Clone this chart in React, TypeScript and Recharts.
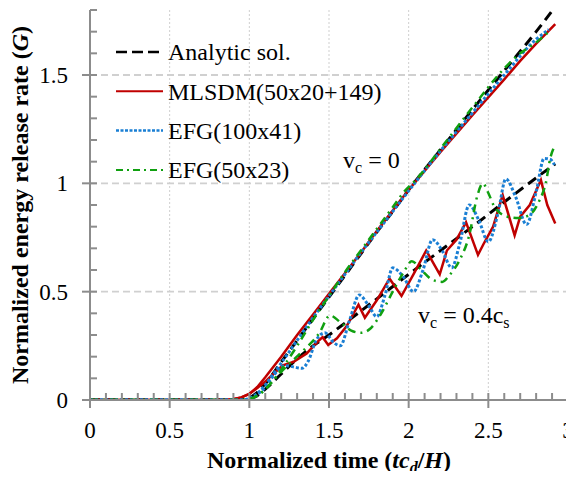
import { Legend, Line, LineChart, ReferenceDot, ReferenceLine, XAxis, YAxis } from 'recharts'

const FONT = '"Liberation Serif", "Times New Roman", serif'
const AXIS = '#8c8c8c'
const BLACK = '#000000'
const RED = '#c00000'
const BLUE = '#1a7fd4'
const GREEN = '#10a010'

// tick positions (minor every 0.1, labelled every 0.5)
const X_TICKS = [0, 0.1, 0.2, 0.3, 0.4, 0.5, 0.6, 0.7, 0.8, 0.9, 1, 1.1, 1.2, 1.3, 1.4, 1.5, 1.6, 1.7, 1.8, 1.9, 2, 2.1, 2.2, 2.3, 2.4, 2.5, 2.6, 2.7, 2.8, 2.9, 3]
const X_LABELS = [0, 0.5, 1, 1.5, 2, 2.5, 3]
const Y_TICKS = [0, 0.1, 0.2, 0.3, 0.4, 0.5, 0.6, 0.7, 0.8, 0.9, 1, 1.1, 1.2, 1.3, 1.4, 1.5, 1.6, 1.7, 1.8]
const Y_LABELS = [0, 0.5, 1, 1.5]
const X_GRID = [0.5, 1, 1.5, 2, 2.5, 3]
const Y_GRID = [0.5, 1, 1.5]

// v_c = 0  [t, G]
const ANALYTIC_V0 = [[0, 0], [0.9, 0], [0.95, 0.003], [1.0, 0.01], [1.05, 0.035], [1.1, 0.075], [1.2, 0.175], [1.3, 0.275], [1.4, 0.375], [1.5, 0.475], [1.6, 0.575], [1.7, 0.675], [1.8, 0.775], [1.9, 0.87], [2.0, 0.97], [2.2, 1.155], [2.4, 1.34], [2.6, 1.52], [2.8, 1.7], [2.92, 1.815]]
const MLSDM_V0 = [[0, 0], [0.85, 0], [0.9, 0.005], [0.95, 0.012], [1.0, 0.028], [1.05, 0.06], [1.1, 0.105], [1.2, 0.2], [1.3, 0.3], [1.4, 0.395], [1.5, 0.49], [1.6, 0.585], [1.7, 0.68], [1.8, 0.78], [1.9, 0.875], [2.0, 0.97], [2.2, 1.145], [2.4, 1.315], [2.6, 1.48], [2.7, 1.565], [2.8, 1.645], [2.92, 1.735]]
const EFG100_V0 = [[0, 0], [0.95, 0], [1.0, 0.008], [1.05, 0.03], [1.1, 0.07], [1.15, 0.12], [1.2, 0.17], [1.3, 0.275], [1.4, 0.38], [1.5, 0.48], [1.6, 0.58], [1.7, 0.68], [1.8, 0.775], [1.9, 0.87], [2.0, 0.965], [2.2, 1.15], [2.4, 1.325], [2.6, 1.5], [2.8, 1.665], [2.88, 1.71]]
const EFG50_V0 = [[0, 0], [0.95, 0], [1.0, 0.005], [1.05, 0.02], [1.1, 0.05], [1.15, 0.09], [1.2, 0.14], [1.3, 0.25], [1.4, 0.37], [1.5, 0.48], [1.6, 0.59], [1.7, 0.69], [1.8, 0.79], [1.9, 0.89], [1.97, 0.96], [2.05, 1.02], [2.2, 1.16], [2.4, 1.35], [2.6, 1.53], [2.7, 1.6], [2.74, 1.62], [2.8, 1.65], [2.88, 1.7]]

// v_c = 0.4 c_s
const ANALYTIC_V04 = [[0, 0], [0.95, 0], [1.0, 0.005], [1.05, 0.02], [1.1, 0.05], [1.2, 0.12], [1.3, 0.19], [1.4, 0.25], [1.5, 0.3], [1.6, 0.355], [1.8, 0.467], [2.0, 0.58], [2.2, 0.69], [2.4, 0.8], [2.6, 0.914], [2.8, 1.025], [2.92, 1.09]]
const MLSDM_V04 = [[0, 0], [0.85, 0], [0.9, 0.004], [0.95, 0.012], [1.0, 0.028], [1.05, 0.055], [1.1, 0.085], [1.15, 0.12], [1.21, 0.16], [1.28, 0.177], [1.36, 0.215], [1.44, 0.277], [1.46, 0.29], [1.495, 0.254], [1.55, 0.285], [1.61, 0.34], [1.685, 0.44], [1.725, 0.38], [1.8, 0.46], [1.88, 0.56], [1.955, 0.48], [2.03, 0.58], [2.11, 0.69], [2.195, 0.58], [2.24, 0.69], [2.3, 0.74], [2.36, 0.82], [2.435, 0.67], [2.47, 0.72], [2.53, 0.8], [2.59, 0.946], [2.665, 0.76], [2.7, 0.846], [2.76, 0.9], [2.83, 1.015], [2.87, 0.9], [2.92, 0.815]]
const EFG100_V04 = [[0, 0], [0.95, 0], [1.0, 0.005], [1.05, 0.025], [1.1, 0.06], [1.15, 0.11], [1.19, 0.145], [1.23, 0.158], [1.27, 0.154], [1.33, 0.146], [1.37, 0.18], [1.42, 0.277], [1.474, 0.31], [1.53, 0.265], [1.57, 0.25], [1.63, 0.37], [1.69, 0.485], [1.745, 0.44], [1.8, 0.385], [1.85, 0.48], [1.9, 0.61], [1.965, 0.57], [2.03, 0.5], [2.09, 0.6], [2.15, 0.74], [2.21, 0.69], [2.27, 0.61], [2.32, 0.72], [2.38, 0.9], [2.44, 0.83], [2.5, 0.73], [2.56, 0.86], [2.61, 1.02], [2.67, 0.94], [2.74, 0.81], [2.8, 0.96], [2.85, 1.115], [2.89, 1.11], [2.915, 1.085]]
const EFG50_V04 = [[0, 0], [0.95, 0], [1.0, 0.005], [1.05, 0.02], [1.1, 0.05], [1.15, 0.09], [1.21, 0.138], [1.32, 0.215], [1.44, 0.31], [1.506, 0.39], [1.57, 0.36], [1.64, 0.32], [1.7, 0.31], [1.76, 0.33], [1.82, 0.39], [1.9, 0.5], [1.965, 0.585], [2.02, 0.64], [2.08, 0.6], [2.15, 0.554], [2.21, 0.545], [2.257, 0.577], [2.32, 0.646], [2.38, 0.76], [2.43, 0.94], [2.466, 1.0], [2.497, 0.96], [2.54, 0.89], [2.62, 0.846], [2.69, 0.84], [2.76, 0.855], [2.82, 0.92], [2.86, 1.0], [2.89, 1.12], [2.915, 1.17]]

const pts = (a: number[][]) => a.map(([x, y]) => ({ x, y }))

const SERIES = [
  { name: 'Analytic sol.', color: BLACK, width: 3, dash: '10 6', curve: 'monotone', sets: [ANALYTIC_V0, ANALYTIC_V04] },
  { name: 'MLSDM(50x20+149)', color: RED, width: 2.5, dash: undefined, curve: 'linear', sets: [MLSDM_V0, MLSDM_V04] },
  { name: 'EFG(100x41)', color: BLUE, width: 3, dash: '3 2', curve: 'monotone', sets: [EFG100_V0, EFG100_V04] },
  { name: 'EFG(50x23)', color: GREEN, width: 2.5, dash: '8 5 2 5', curve: 'monotone', sets: [EFG50_V0, EFG50_V04] },
]

const LEGEND_DASH = ['11 5', undefined, '3 1.5', '7 4 2 4']

function XTick(props: any) {
  const { x, y, payload } = props
  const major = X_LABELS.includes(payload.value)
  return (
    <g>
      <line x1={x} x2={x} y1={y - 7} y2={major ? y + 8 : y} stroke={AXIS} strokeWidth={2} />
      {major && (
        <text x={x} y={y + 38} textAnchor="middle" fontFamily={FONT} fontSize={23} fill="#000">
          {payload.value}
        </text>
      )}
    </g>
  )
}

function YTick(props: any) {
  const { x, y, payload } = props
  const major = Y_LABELS.includes(payload.value)
  return (
    <g>
      <line x1={major ? x - 8 : x} x2={x + 7} y1={y} y2={y} stroke={AXIS} strokeWidth={2} />
      {major && (
        <text x={x - 22} y={y} dy="0.35em" textAnchor="end" fontFamily={FONT} fontSize={23} fill="#000">
          {payload.value}
        </text>
      )}
    </g>
  )
}

function XTitle(props: any) {
  const { x, y, width } = props.viewBox
  return (
    <text x={x + width / 2} y={y + 68} textAnchor="middle" fontFamily={FONT} fontSize={24} fontWeight="bold" fill="#000">
      Normalized time (<tspan fontStyle="italic">tc</tspan>
      <tspan fontStyle="italic" fontSize={16} dy={5}>d</tspan>
      <tspan dy={-5}>/</tspan>
      <tspan fontStyle="italic">H</tspan>)
    </text>
  )
}

function YTitle(props: any) {
  const { x, y, height } = props.viewBox
  return (
    <text
      transform={`translate(${x + 20},${y + height / 2}) rotate(-90)`}
      textAnchor="middle"
      dominantBaseline="central"
      fontFamily={FONT}
      fontSize={24}
      fontWeight="bold"
      fill="#000"
    >
      Normalized energy release rate (<tspan fontStyle="italic">G</tspan>)
    </text>
  )
}

function Annot(props: any) {
  const { x, y } = props.viewBox
  return (
    <text x={x} y={y} fontFamily={FONT} fontSize={24} fill="#000">
      v<tspan fontSize={16} dy={5}>c</tspan>
      <tspan dy={-5}>{` = ${props.value}`}</tspan>
      {props.sub && <tspan fontSize={16} dy={5}>{props.sub}</tspan>}
    </text>
  )
}

function LegendBox() {
  return (
    <svg width={300} height={165}>
      {SERIES.map((s, i) => {
        const cy = 22 + i * 39.3
        return (
          <g key={s.name}>
            <line x1={6} x2={53} y1={cy} y2={cy} stroke={s.color} strokeWidth={s.width - 0.5} strokeDasharray={LEGEND_DASH[i]} />
            <text x={58} y={cy} dy="0.35em" fontFamily={FONT} fontSize={24} fill="#000">
              {s.name}
            </text>
          </g>
        )
      })}
    </svg>
  )
}

export default function App() {
  return (
    <div style={{ position: 'relative', width: 574, height: 479, margin: -8, overflow: 'hidden' }}>
      <LineChart width={574} height={479} margin={{ top: 10, right: 6, bottom: 0, left: 0 }} style={{ overflow: 'visible' }}>
        <XAxis
          dataKey="x"
          type="number"
          domain={[0, 3]}
          ticks={X_TICKS}
          interval={0}
          tick={<XTick />}
          tickLine={false}
          tickSize={0}
          tickMargin={0}
          axisLine={{ stroke: AXIS, strokeWidth: 2 }}
          height={79}
          label={<XTitle />}
        />
        <YAxis
          type="number"
          domain={[0, 1.8]}
          allowDataOverflow
          ticks={Y_TICKS}
          interval={0}
          tick={<YTick />}
          tickLine={false}
          tickSize={0}
          tickMargin={0}
          axisLine={{ stroke: AXIS, strokeWidth: 2 }}
          width={90}
          label={<YTitle />}
        />
        {X_GRID.map((v) => (
          <ReferenceLine key={'gx' + v} x={v} stroke="#cfcfcf" strokeWidth={1} strokeDasharray="2 2" />
        ))}
        {Y_GRID.map((v) => (
          <ReferenceLine key={'gy' + v} y={v} stroke="#d0d0d0" strokeWidth={1.8} strokeDasharray="7 4" />
        ))}
        <Legend layout="vertical" align="center" verticalAlign="middle" wrapperStyle={{ left: 110, top: 30 }} content={<LegendBox />} />
        {SERIES.flatMap((s) =>
          s.sets.map((set, j) => (
            <Line
              key={s.name + j}
              data={pts(set)}
              dataKey="y"
              type={s.curve as any}
              stroke={s.color}
              strokeWidth={s.width}
              strokeDasharray={s.dash}
              dot={false}
              activeDot={false}
              isAnimationActive={false}
            />
          ))
        )}
        <ReferenceDot x={1.588} y={1.071} r={0} fill="none" stroke="none" label={<Annot value="0" />} />
        <ReferenceDot x={2.059} y={0.355} r={0} fill="none" stroke="none" label={<Annot value="0.4c" sub="s" />} />
      </LineChart>
    </div>
  )
}
